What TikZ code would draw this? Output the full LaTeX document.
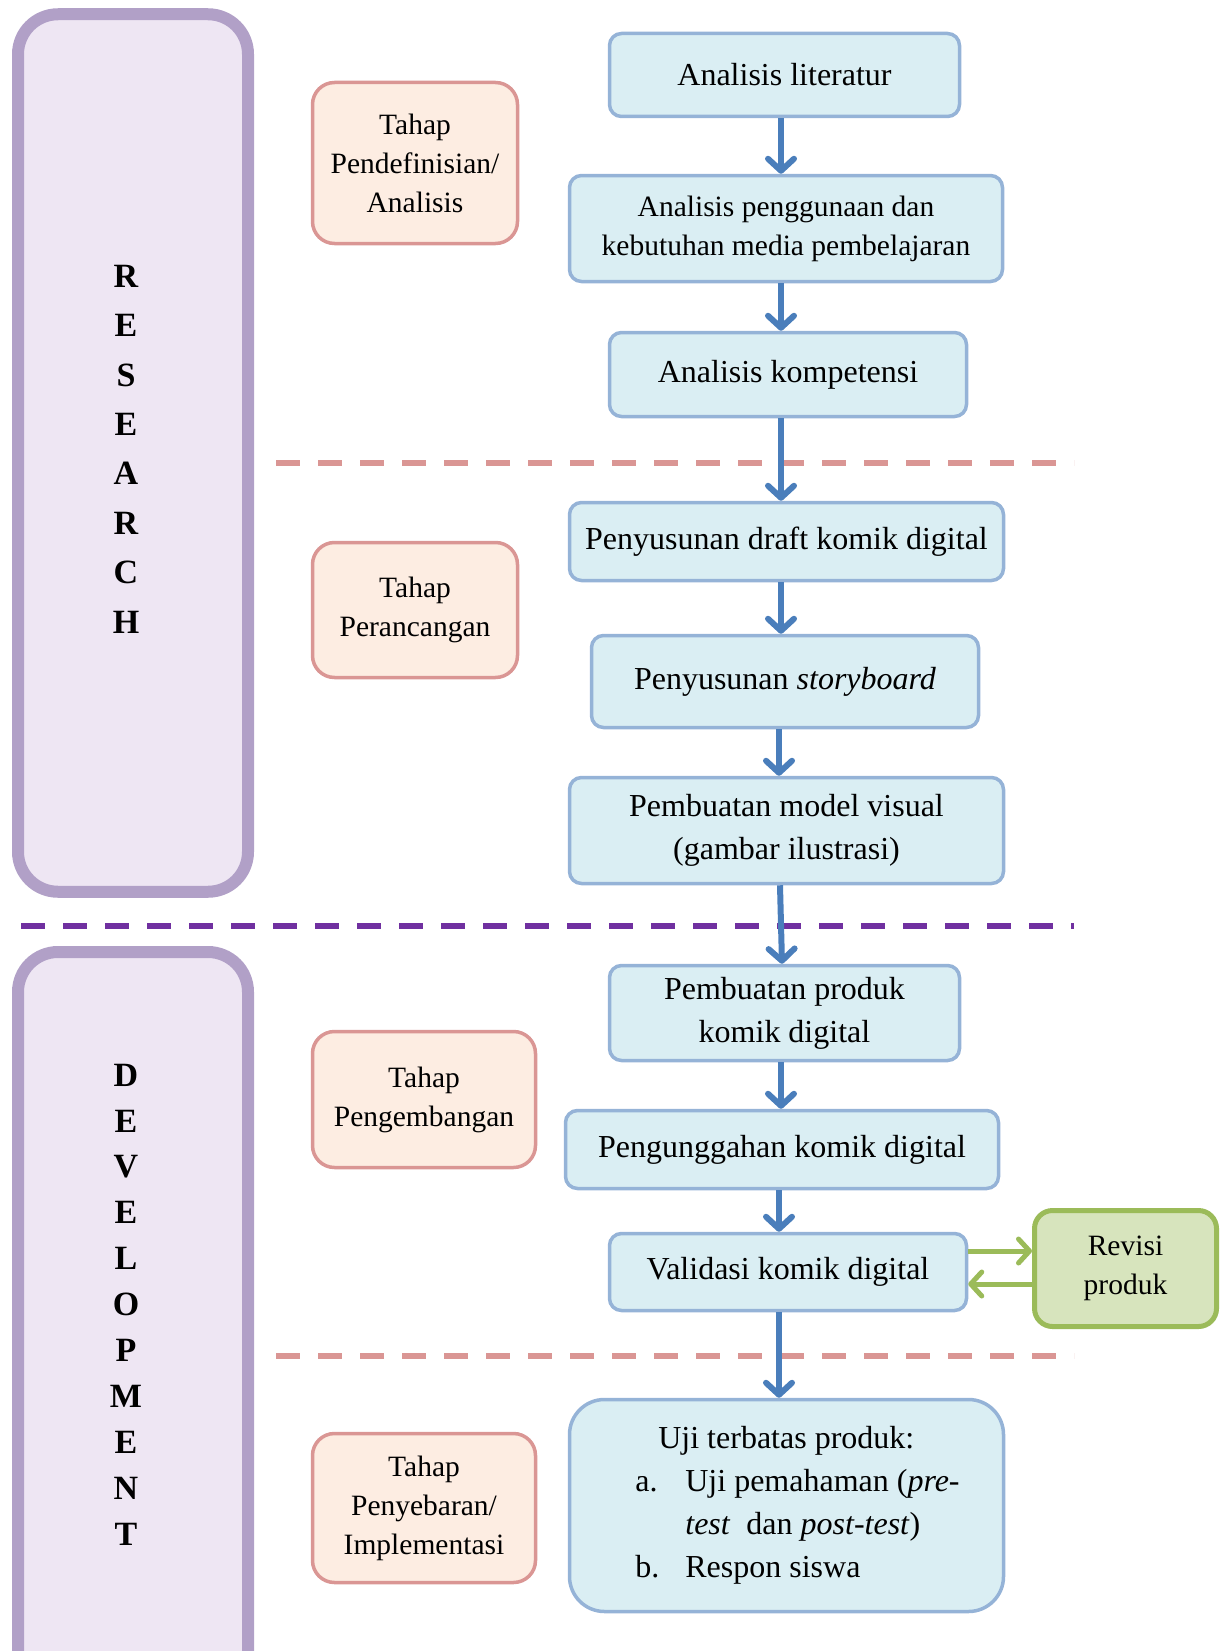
\documentclass[tikz,border=0pt]{standalone}
\usepackage{fontspec}
\setmainfont{Liberation Serif}
\usetikzlibrary{arrows.meta,positioning}

\definecolor{lavfill}{RGB}{238,230,243}
\definecolor{lavline}{RGB}{177,160,199}
\definecolor{lavdash}{RGB}{112,48,160}
\definecolor{stagefill}{RGB}{253,237,226}
\definecolor{stageline}{RGB}{218,150,148}
\definecolor{boxfill}{RGB}{218,238,243}
\definecolor{boxline}{RGB}{149,179,215}
\definecolor{flowblue}{RGB}{74,126,187}
\definecolor{revfill}{RGB}{215,228,189}
\definecolor{revline}{RGB}{155,187,89}

\begin{document}
\begin{tikzpicture}[
  x=1pt, y=-1pt,
  phase/.style={draw=lavline, fill=lavfill, line width=12pt, rounded corners=40pt,
                minimum width=230pt},
  vword/.style={align=center, inner sep=0pt},
  stage/.style={draw=stageline, fill=stagefill, line width=3.5pt, rounded corners=22pt,
                align=center, font=\fontsize{29.5}{39}\selectfont},
  box/.style={draw=boxline, fill=boxfill, line width=3.5pt, rounded corners=12pt,
              align=center, font=\fontsize{32}{43}\selectfont},
  rev/.style={draw=revline, fill=revfill, line width=5pt, rounded corners=18pt,
              align=center, font=\fontsize{29.5}{39}\selectfont},
  sep/.style={line width=6pt, dash pattern=on 24pt off 18pt},
  flow/.style={draw=flowblue, line width=6pt,
               -{Straight Barb[length=12pt, width=26pt, line cap=round, line join=round]}},
  fb/.style={draw=revline, line width=5pt,
             -{Straight Barb[length=11pt, width=24pt, line cap=round, line join=round]}}
]
  \useasboundingbox (0,0) rectangle (1229,1651);

  % research / development bands
  \node[phase, minimum height=877.5pt] (research) at (133,453) {};
  \node[phase, minimum height=768pt] (develop) at (133,1336) {};
  \node[vword, font=\bfseries\fontsize{34}{49.4}\selectfont] (rword) at (126,449)
    {R\\E\\S\\E\\A\\R\\C\\H};
  \node[vword, font=\bfseries\fontsize{34}{45.9}\selectfont] (dword) at (126,1304.5)
    {D\\E\\V\\E\\L\\O\\P\\M\\E\\N\\T};

  % separators
  \draw[sep, draw=stageline] (276,463) -- (1074,463);
  \draw[sep, draw=lavdash] (21,926) -- (1074,926);
  \draw[sep, draw=stageline] (276,1356) -- (1074,1356);

  % stages
  \node[stage, minimum width=205pt, minimum height=161pt] (define) at (415,163)
    {Tahap\\Pendefinisian/\\Analisis};
  \node[stage, minimum width=205pt, minimum height=135pt] (design) at (415,610)
    {Tahap\\Perancangan};
  \node[stage, minimum width=223pt, minimum height=136pt] (devel) at (424,1099.5)
    {Tahap\\Pengembangan};
  \node[stage, minimum width=223pt, minimum height=149pt] (spread) at (424,1508)
    {Tahap\\Penyebaran/\\Implementasi};

  % steps
  \node[box, minimum width=350pt, minimum height=83pt] (lit) at (784.5,75)
    {Analisis literatur};
  \node[box, minimum width=433pt, minimum height=106pt, font=\fontsize{29.5}{39}\selectfont]
    (need) at (786,228.5) {Analisis penggunaan dan\\kebutuhan media pembelajaran};
  \node[box, minimum width=357pt, minimum height=84pt] (komp) at (788,374.5)
    {Analisis kompetensi};
  \node[box, minimum width=434pt, minimum height=78pt] (draft) at (786.5,541.5)
    {Penyusunan draft komik digital};
  \node[box, minimum width=387pt, minimum height=92pt] (story) at (785,681.5)
    {Penyusunan \textit{storyboard}};
  \node[box, minimum width=434pt, minimum height=106pt] (model) at (786.5,830.5)
    {Pembuatan model visual\\(gambar ilustrasi)};
  \node[box, minimum width=350pt, minimum height=95pt] (produk) at (784.5,1013)
    {Pembuatan produk\\komik digital};
  \node[box, minimum width=433pt, minimum height=78pt] (upload) at (782,1149.5)
    {Pengunggahan komik digital};
  \node[box, minimum width=357pt, minimum height=77pt] (valid) at (788,1272)
    {Validasi komik digital};
  \node[box, minimum width=434pt, minimum height=212pt, rounded corners=35pt, align=left]
    (uji) at (786.5,1505.5)
    {\hspace*{45pt}Uji terbatas produk:\\
     \hspace*{22pt}\makebox[50pt][l]{a.}Uji pemahaman (\textit{pre-}\\
     \hspace*{72pt}\textit{test}\ \ dan \textit{post-test})\\
     \hspace*{22pt}\makebox[50pt][l]{b.}Respon siswa};
  \node[rev, minimum width=182pt, minimum height=116pt] (revisi) at (1125.5,1268.5)
    {Revisi\\produk};

  % flow
  \coordinate (ax) at (781,0);
  \draw[flow] (lit.south -| ax) -- (need.north -| ax);
  \draw[flow] (need.south -| ax) -- (komp.north -| ax);
  \draw[flow] (komp.south -| ax) -- (draft.north -| ax);
  \draw[flow] (draft.south -| ax) -- (story.north -| ax);
  \draw[flow] ([xshift=-2pt]story.south -| ax) -- ([xshift=-2pt]model.north -| ax);
  \draw[flow] ([xshift=-1pt]model.south -| ax) -- ([xshift=1pt]produk.north -| ax);
  \draw[flow] (produk.south -| ax) -- (upload.north -| ax);
  \draw[flow] ([xshift=-2pt]upload.south -| ax) -- ([xshift=-2pt]valid.north -| ax);
  \draw[flow] ([xshift=-2pt]valid.south -| ax) -- ([xshift=-2pt]uji.north -| ax);

  % revision loop
  \draw[fb] ([yshift=21pt]valid.east) -- ([yshift=21pt]valid.east -| revisi.west);
  \draw[fb] ([yshift=-12pt]valid.east -| revisi.west) -- ([yshift=-12pt]valid.east);
\end{tikzpicture}
\end{document}
